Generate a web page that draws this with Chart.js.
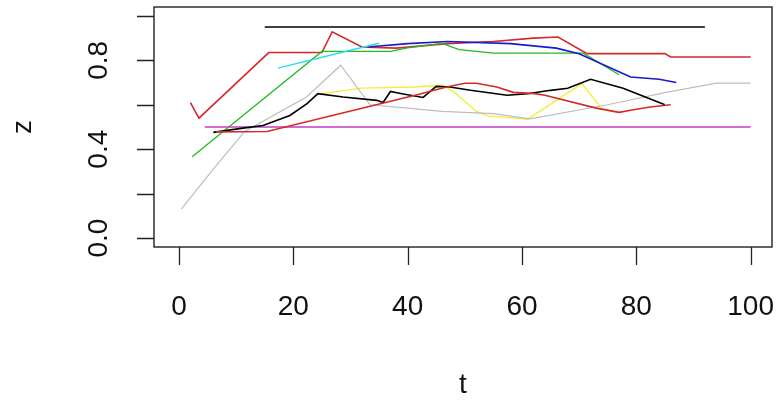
<!DOCTYPE html>
<html>
<head>
<meta charset="utf-8">
<title>z vs t</title>
<script src="https://cdn.jsdelivr.net/npm/chart.js@4.4.0/dist/chart.umd.min.js"></script>
<style>
  html, body { margin: 0; padding: 0; background: #fff; }
  canvas { display: block; }
</style>
</head>
<body>
<canvas id="zChart" width="780" height="402"></canvas>
<script>
// series, in the order they are drawn (later ones end up on top)
const tBlackFlat = [15, 92];
const zBlackFlat = [0.95, 0.95];

const tRedTop = [2, 3.5, 15.7, 25, 26.8, 32, 38, 47, 55, 62, 66.3, 71.4, 85, 86, 100];
const zRedTop = [0.61, 0.54, 0.835, 0.835, 0.928, 0.86, 0.855, 0.875, 0.885, 0.9, 0.905, 0.83, 0.83, 0.815, 0.815];

const tGreen = [2.3, 25, 37, 40, 46, 49, 55, 70.7, 77];
const zGreen = [0.366, 0.84, 0.84, 0.856, 0.876, 0.848, 0.832, 0.832, 0.735];

const tBlue = [33, 40, 47, 58, 62, 66, 70, 79, 84, 87];
const zBlue = [0.86, 0.875, 0.885, 0.875, 0.865, 0.855, 0.83, 0.725, 0.715, 0.70];

const tCyan = [17.3, 35];
const zCyan = [0.765, 0.877];

const tMagenta = [4.5, 100];
const zMagenta = [0.5, 0.5];

const tYellow = [25, 32, 41, 46, 48, 52, 54, 61, 66, 70.5, 74, 77];
const zYellow = [0.65, 0.675, 0.68, 0.688, 0.66, 0.57, 0.55, 0.535, 0.62, 0.695, 0.58, 0.565];

const tGray = [0.4, 6, 11.5, 22.3, 28.3, 33.4, 40, 46, 55, 61.4, 75, 85, 94, 100];
const zGray = [0.13, 0.31, 0.48, 0.635, 0.778, 0.6, 0.585, 0.57, 0.56, 0.537, 0.6, 0.655, 0.697, 0.697];

const tBlackWavy = [6, 11.2, 14.7, 19.4, 22.4, 24.3, 28.7, 34.6, 35.7, 37, 39, 42.7, 45, 47.4, 51, 57.4, 61, 65, 68, 72, 77.7, 85];
const zBlackWavy = [0.476, 0.495, 0.507, 0.552, 0.605, 0.65, 0.635, 0.62, 0.61, 0.66, 0.65, 0.633, 0.683, 0.68, 0.665, 0.643, 0.65, 0.665, 0.674, 0.715, 0.674, 0.6];

const tRedLow = [6.5, 15.4, 41.3, 46.8, 50, 52, 55.6, 58.5, 62.3, 64, 73, 77, 79, 82.4, 86];
const zRedLow = [0.478, 0.48, 0.643, 0.68, 0.697, 0.697, 0.68, 0.656, 0.65, 0.643, 0.585, 0.566, 0.575, 0.59, 0.6];

// axis ticks
const xTicks = [0, 20, 40, 60, 80, 100];
const yTicks = [0, 0.2, 0.4, 0.6, 0.8, 1.0];
const yTickLabels = ['0.0', '', '0.4', '', '0.8', ''];

const series = [
  { t: tBlackFlat, z: zBlackFlat, color: '#000000', w: 1.6 },
  { t: tRedTop, z: zRedTop, color: '#d42a2a', w: 1.6 },
  { t: tGreen, z: zGreen, color: '#22bb22', w: 1.3 },
  { t: tBlue, z: zBlue, color: '#1a1ad0', w: 1.6 },
  { t: tCyan, z: zCyan, color: '#22e0ea', w: 1.4 },
  { t: tMagenta, z: zMagenta, color: '#c43cc8', w: 1.6 },
  { t: tYellow, z: zYellow, color: '#f2ee3a', w: 1.4 },
  { t: tGray, z: zGray, color: '#bdbdbd', w: 1.2 },
  { t: tBlackWavy, z: zBlackWavy, color: '#000000', w: 1.6 },
  { t: tRedLow, z: zRedLow, color: '#d42a2a', w: 1.6 }
];

const font = '"Liberation Sans", Arial, sans-serif';
const fontSize = 28;

// box, tick marks and labels in base-graphics style
const axesPlugin = {
  id: 'baseAxes',
  beforeDatasetsDraw(chart) {
    const ctx = chart.ctx;
    const area = chart.chartArea;
    const xs = chart.scales.x;
    const ys = chart.scales.y;
    ctx.save();
    ctx.strokeStyle = '#222';
    ctx.lineWidth = 1.4;
    ctx.strokeRect(area.left, area.top, area.right - area.left, area.bottom - area.top);

    // tick marks
    ctx.lineWidth = 1.3;
    ctx.beginPath();
    xTicks.forEach(v => {
      const px = Math.round(xs.getPixelForValue(v)) + 0.5;
      ctx.moveTo(px, area.bottom);
      ctx.lineTo(px, area.bottom + 18);
    });
    yTicks.forEach(v => {
      const py = Math.round(ys.getPixelForValue(v)) + 0.5;
      ctx.moveTo(area.left, py);
      ctx.lineTo(area.left - 17, py);
    });
    ctx.stroke();

    // tick labels
    ctx.fillStyle = '#111';
    ctx.font = fontSize + 'px ' + font;
    ctx.textAlign = 'center';
    ctx.textBaseline = 'alphabetic';
    xTicks.forEach(v => {
      ctx.fillText(String(v), xs.getPixelForValue(v), 315);
    });
    yTicks.forEach((v, i) => {
      if (!yTickLabels[i]) return;
      ctx.save();
      ctx.translate(107, ys.getPixelForValue(v));
      ctx.rotate(-Math.PI / 2);
      ctx.fillText(yTickLabels[i], 0, 0);
      ctx.restore();
    });

    // axis titles
    ctx.fillText('t', (area.left + area.right) / 2, 393);
    ctx.save();
    ctx.translate(31, (area.top + area.bottom) / 2);
    ctx.rotate(-Math.PI / 2);
    ctx.fillText('z', 0, 0);
    ctx.restore();
    ctx.restore();
  }
};

new Chart(document.getElementById('zChart'), {
  type: 'line',
  data: {
    datasets: series.map((s, i) => ({
      data: s.t.map((v, j) => ({ x: v, y: s.z[j] })),
      borderColor: s.color,
      borderWidth: s.w,
      pointRadius: 0,
      tension: 0,
      fill: false,
      order: series.length - i
    }))
  },
  options: {
    responsive: false,
    animation: false,
    devicePixelRatio: 1,
    layout: { padding: { left: 154, right: 8, top: 7, bottom: 155 } },
    plugins: { legend: { display: false }, tooltip: { enabled: false } },
    scales: {
      x: { type: 'linear', min: -4.37, max: 103.74, display: false },
      y: { type: 'linear', min: -0.04, max: 1.04, display: false }
    }
  },
  plugins: [axesPlugin]
});
</script>
</body>
</html>
